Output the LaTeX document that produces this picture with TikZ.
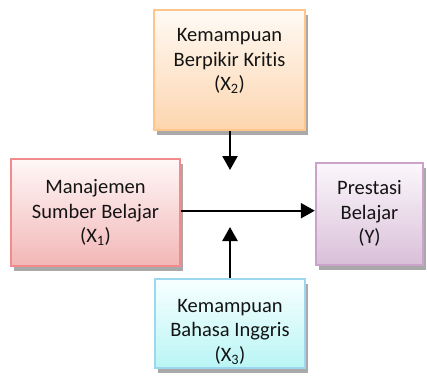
\documentclass[tikz,border=0pt]{standalone}
\usepackage{fontspec}
\setmainfont{Carlito}[Ligatures={NoCommon}]
\usetikzlibrary{shadows,arrows.meta}
\begin{document}
\begin{tikzpicture}[x=1pt,y=-1pt,
  box/.style={draw, line width=2.4pt, inner sep=0pt,
    drop shadow={shadow xshift=3pt, shadow yshift=-4.5pt, fill=black!45, opacity=0.75}},
  txt/.style={align=center, inner sep=0pt, font=\fontsize{20.5}{24.5}\selectfont, text=black!92},
  conn/.style={line width=2.4pt, -{Triangle[length=14pt,width=15pt]}}]
\useasboundingbox (0,0) rectangle (427,381);
% boxes
\node[box, draw=orange!45, top color=orange!4, bottom color=orange!30!white!96!brown,
  minimum width=151pt, minimum height=120pt] (x2) at (229.5,70) {};
\node[box, draw=red!45!white!90!gray, top color=red!3, bottom color=red!26!white!90!gray,
  minimum width=169pt, minimum height=107pt] (x1) at (95.5,212.5) {};
\node[box, draw=violet!35!white!90!gray, top color=violet!3, bottom color=violet!22!white!90!gray,
  minimum width=107pt, minimum height=102pt] (y) at (369.5,214) {};
\node[box, draw=cyan!40!white!90!gray, top color=cyan!3, bottom color=cyan!25!white!92!gray,
  minimum width=150pt, minimum height=89pt] (x3) at (230,323.5) {};
% texts
\node[txt] (x2t) at (229.5,61) {Kemampuan\\Berpikir Kritis\\(X\textsubscript{2})};
\node[txt] (x1t) at (95.5,212.5) {Manajemen\\Sumber Belajar\\(X\textsubscript{1})};
\node[txt] (yt) at (369.5,213.5) {Prestasi\\Belajar\\(Y)};
\node[txt] (x3t) at (230,332) {Kemampuan\\Bahasa Inggris\\(X\textsubscript{3})};
% connectors
\coordinate (t1) at (230,170);
\coordinate (t3) at (230,227);
\draw[conn] (x1.east |- 0,210.7) -- (y.west |- 0,210.7);
\draw[conn] (x2.south -| t1) -- (t1);
\draw[conn] (x3.north -| t3) -- (t3);
\end{tikzpicture}
\end{document}
